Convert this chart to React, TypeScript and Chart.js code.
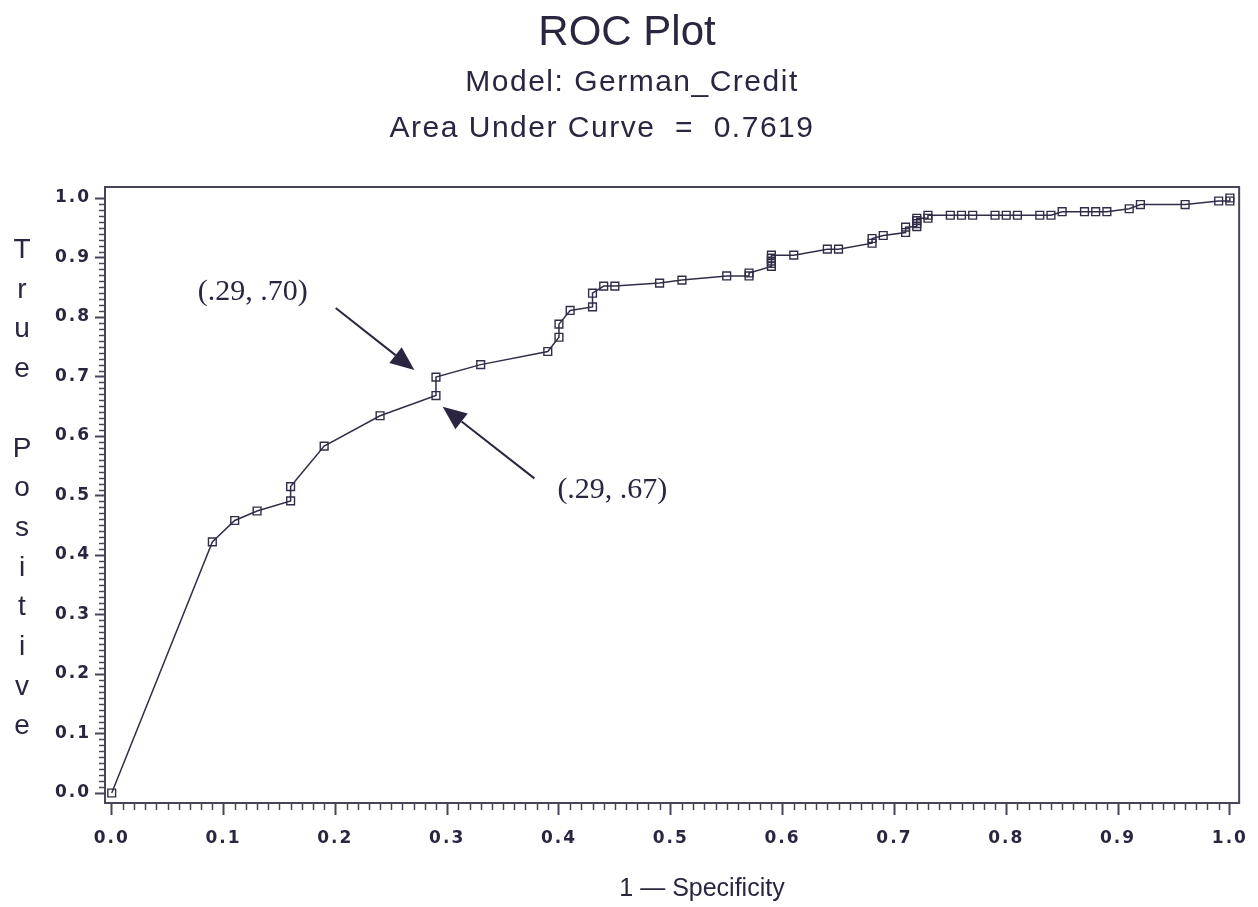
import React, { useEffect, useRef } from 'react';
import { Chart, registerables } from 'chart.js';

Chart.register(...registerables);

// ---- data ----
const fprValues = [
  0, 0.09, 0.11, 0.13, 0.16, 0.16, 0.19, 0.24, 0.29, 0.29, 0.33, 0.39, 0.40, 0.40, 0.41,
  0.43, 0.43, 0.44, 0.45, 0.49, 0.51, 0.55, 0.57, 0.57, 0.59, 0.59, 0.59, 0.59, 0.59,
  0.61, 0.64, 0.65, 0.68, 0.68, 0.69, 0.71, 0.71, 0.72, 0.72, 0.72, 0.72, 0.73, 0.73,
  0.75, 0.76, 0.77, 0.79, 0.80, 0.81, 0.83, 0.84, 0.85, 0.87, 0.88, 0.89, 0.91, 0.92,
  0.96, 0.99, 1.00, 1.00,
];
const tprValues = [
  0, 0.422, 0.458, 0.474, 0.491, 0.515, 0.583, 0.634, 0.668, 0.699, 0.720, 0.742, 0.766, 0.788, 0.811,
  0.817, 0.840, 0.852, 0.852, 0.857, 0.862, 0.869, 0.869, 0.874, 0.885, 0.890, 0.894, 0.899, 0.904,
  0.904, 0.914, 0.914, 0.924, 0.932, 0.937, 0.942, 0.951, 0.952, 0.957, 0.962, 0.966, 0.966, 0.971,
  0.971, 0.971, 0.971, 0.971, 0.971, 0.971, 0.971, 0.971, 0.977, 0.977, 0.977, 0.977, 0.982, 0.989,
  0.989, 0.995, 0.995, 1.0,
];
const xTickValues = [0, 0.1, 0.2, 0.3, 0.4, 0.5, 0.6, 0.7, 0.8, 0.9, 1.0];
const yTickValues = [0, 0.1, 0.2, 0.3, 0.4, 0.5, 0.6, 0.7, 0.8, 0.9, 1.0];
const titleLines = ['ROC Plot', 'Model: German_Credit', 'Area Under Curve  =  0.7619'];
const yAxisTitle = 'True Positive';
const xAxisTitle = '1 \u2014 Specificity';
const annotationLabels = ['(.29, .70)', '(.29, .67)'];
const annotationX = [0.29, 0.29];
const annotationY = [0.70, 0.67];

const INK = '#2b2540';
const FRAME = '#4a4458';

function drawArrow(ctx: CanvasRenderingContext2D, x0: number, y0: number, x1: number, y1: number) {
  const ang = Math.atan2(y1 - y0, x1 - x0);
  const headLen = 24;
  const halfW = 10;
  const bx = x1 - headLen * Math.cos(ang);
  const by = y1 - headLen * Math.sin(ang);
  ctx.beginPath();
  ctx.moveTo(x0, y0);
  ctx.lineTo(bx, by);
  ctx.lineWidth = 2;
  ctx.strokeStyle = INK;
  ctx.stroke();
  ctx.beginPath();
  ctx.moveTo(x1, y1);
  ctx.lineTo(bx + halfW * Math.sin(ang), by - halfW * Math.cos(ang));
  ctx.lineTo(bx - halfW * Math.sin(ang), by + halfW * Math.cos(ang));
  ctx.closePath();
  ctx.fillStyle = INK;
  ctx.fill();
}

const decorPlugin = {
  id: 'decor',
  beforeDraw(chart: any) {
    const ctx = chart.ctx;
    ctx.save();
    ctx.fillStyle = '#ffffff';
    ctx.fillRect(0, 0, chart.width, chart.height);
    ctx.restore();
    (ctx as any).letterSpacing = '2px';
  },
  afterDraw(chart: any) {
    const ctx: CanvasRenderingContext2D = chart.ctx;
    const xs = chart.scales.x;
    const ys = chart.scales.y;
    const area = chart.chartArea;
    ctx.save();
    (ctx as any).letterSpacing = '0px';

    // frame
    ctx.strokeStyle = FRAME;
    ctx.lineWidth = 2;
    ctx.strokeRect(area.left, area.top, area.right - area.left, area.bottom - area.top);

    // minor ticks
    ctx.lineWidth = 1.5;
    ctx.strokeStyle = FRAME;
    for (let i = 0; i <= 100; i++) {
      if (i % 10 === 0) continue;
      const px = Math.round(xs.getPixelForValue(i / 100)) + 0.5;
      ctx.beginPath();
      ctx.moveTo(px, area.bottom);
      ctx.lineTo(px, area.bottom + 7);
      ctx.stroke();
      const py = Math.round(ys.getPixelForValue(i / 100)) + 0.5;
      ctx.beginPath();
      ctx.moveTo(area.left - 6, py);
      ctx.lineTo(area.left, py);
      ctx.stroke();
    }

    // titles
    ctx.fillStyle = INK;
    ctx.textAlign = 'center';
    ctx.textBaseline = 'alphabetic';
    ctx.font = '42px "Liberation Sans", Arial, sans-serif';
    ctx.fillText(titleLines[0], 627, 45);
    ctx.font = '30px "Liberation Sans", Arial, sans-serif';
    (ctx as any).letterSpacing = '1.5px';
    ctx.fillText(titleLines[1], 632, 91);
    ctx.fillText(titleLines[2], 602, 137);
    (ctx as any).letterSpacing = '0px';

    // y axis title (stacked letters)
    ctx.font = '28px "Liberation Sans", Arial, sans-serif';
    const letters = yAxisTitle.split('');
    letters.forEach((ch, i) => {
      if (ch === ' ') return;
      ctx.fillText(ch, 22, 258 + i * 39.7);
    });

    // x axis title
    ctx.font = '25px "Liberation Sans", Arial, sans-serif';
    ctx.fillText(xAxisTitle, 702, 896);

    // annotations
    const tipOff = [[-21.6, -6.5], [6.7, 12.3]];
    const tailOff = [[-100.3, -68.5], [98.4, 84]];
    const textOff = [[-183.3, -84.5], [176.4, 95.6]];
    ctx.font = '30px "Liberation Serif", "Times New Roman", serif';
    ctx.textBaseline = 'middle';
    for (let i = 0; i < annotationLabels.length; i++) {
      const ax = xs.getPixelForValue(annotationX[i]);
      const ay = ys.getPixelForValue(annotationY[i]);
      drawArrow(ctx, ax + tailOff[i][0], ay + tailOff[i][1], ax + tipOff[i][0], ay + tipOff[i][1]);
      ctx.fillStyle = INK;
      ctx.fillText(annotationLabels[i], ax + textOff[i][0], ay + textOff[i][1]);
    }
    ctx.restore();
  },
};

export default function App() {
  const canvasRef = useRef<HTMLCanvasElement | null>(null);

  useEffect(() => {
    const canvas = canvasRef.current;
    if (!canvas) return;
    const points = fprValues.map((x, i) => ({ x, y: tprValues[i] }));
    const tickFont = { family: '"DejaVu Sans", sans-serif', weight: 'bold' as const, size: 17 };
    const chart = new Chart(canvas, {
      type: 'scatter',
      data: {
        datasets: [
          {
            data: points,
            showLine: true,
            borderColor: '#332c48',
            borderWidth: 1.5,
            pointStyle: 'rect',
            pointRadius: 5.5,
            pointBorderWidth: 1.4,
            pointBorderColor: '#332c48',
            pointBackgroundColor: 'rgba(0,0,0,0)',
            clip: false as any,
          },
        ],
      },
      options: {
        animation: false,
        responsive: false,
        devicePixelRatio: 1,
        layout: { padding: { top: 187, right: 10, left: 0, bottom: 0 } },
        plugins: { legend: { display: false }, tooltip: { enabled: false }, title: { display: false } },
        scales: {
          x: {
            type: 'linear',
            min: -0.006,
            max: 1.0083,
            afterBuildTicks: (s: any) => {
              s.ticks = xTickValues.map((v) => ({ value: v }));
            },
            afterFit: (s: any) => {
              s.height = 104;
            },
            ticks: {
              callback: (v: any) => Number(v).toFixed(1),
              font: tickFont,
              color: INK,
              padding: 13,
              maxRotation: 0,
              autoSkip: false,
            },
            grid: { drawOnChartArea: false, tickLength: 12, tickWidth: 2, tickColor: FRAME },
            border: { display: true, color: FRAME, width: 2 },
          },
          y: {
            type: 'linear',
            min: -0.0168,
            max: 1.0185,
            afterBuildTicks: (s: any) => {
              s.ticks = yTickValues.map((v) => ({ value: v }));
            },
            afterFit: (s: any) => {
              s.width = 105;
            },
            ticks: {
              callback: (v: any) => Number(v).toFixed(1),
              font: tickFont,
              color: INK,
              padding: 4,
              autoSkip: false,
            },
            grid: { drawOnChartArea: false, tickLength: 10, tickWidth: 2, tickColor: FRAME },
            border: { display: true, color: FRAME, width: 2 },
          },
        },
      },
      plugins: [decorPlugin],
    });
    return () => chart.destroy();
  }, []);

  return (
    <div style={{ position: 'absolute', left: 0, top: 0, width: 1258, height: 907, background: '#fff' }}>
      <canvas ref={canvasRef} width={1258} height={907} style={{ display: 'block', width: 1258, height: 907 }} />
    </div>
  );
}
